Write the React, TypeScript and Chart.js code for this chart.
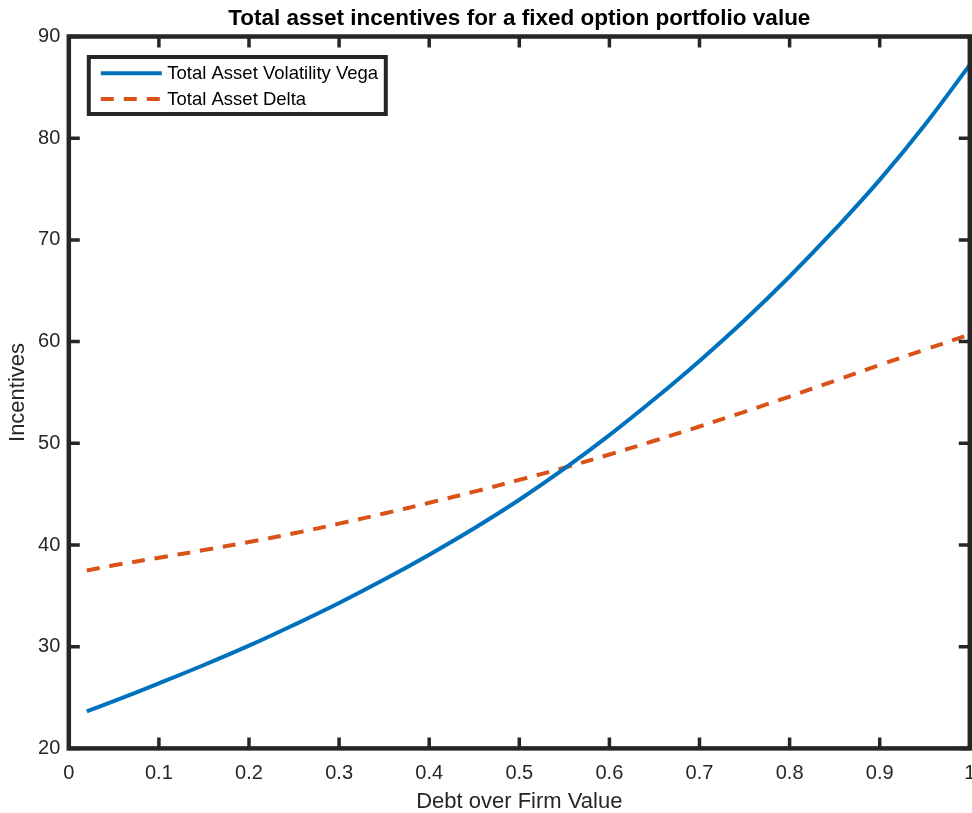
import React, { useEffect, useRef } from "react";
import { Chart, registerables } from "chart.js";

Chart.register(...registerables);

const debtRatio = [0.02, 0.05, 0.1, 0.15, 0.2, 0.25, 0.3, 0.35, 0.4, 0.45, 0.5, 0.55, 0.6, 0.65, 0.7, 0.75, 0.8, 0.85, 0.9, 0.95, 1.0];
const vegaValues = [23.65, 24.65, 26.4, 28.2, 30.1, 32.15, 34.3, 36.6, 39.05, 41.65, 44.45, 47.5, 50.8, 54.35, 58.1, 62.1, 66.4, 71.0, 75.9, 81.3, 87.2];
const deltaValues = [37.5, 38.0, 38.75, 39.5, 40.3, 41.15, 42.1, 43.1, 44.15, 45.25, 46.4, 47.6, 48.9, 50.25, 51.65, 53.1, 54.6, 56.15, 57.7, 59.2, 60.7];
const seriesLabels = ["Total Asset Volatility Vega", "Total Asset Delta"];
const chartTitle = "Total asset incentives for a fixed option portfolio value";
const xAxisTitle = "Debt over Firm Value";
const yAxisTitle = "Incentives";

const FONT = "'Liberation Sans', Arial, Helvetica, sans-serif";
const AXIS_COLOR = "#262626";

const framePlugin = {
  id: "matlabFrame",
  afterDatasetsDraw(chart: any) {
    const { ctx, chartArea } = chart;
    const xs = chart.scales.x;
    const ys = chart.scales.y;
    const tickLen = 11;
    ctx.save();
    ctx.strokeStyle = AXIS_COLOR;
    ctx.lineWidth = 3.5;
    ctx.beginPath();
    xs.ticks.forEach((t: any) => {
      const px = xs.getPixelForValue(t.value);
      ctx.moveTo(px, chartArea.bottom);
      ctx.lineTo(px, chartArea.bottom - tickLen);
      ctx.moveTo(px, chartArea.top);
      ctx.lineTo(px, chartArea.top + tickLen);
    });
    ys.ticks.forEach((t: any) => {
      const py = ys.getPixelForValue(t.value);
      ctx.moveTo(chartArea.left, py);
      ctx.lineTo(chartArea.left + tickLen, py);
      ctx.moveTo(chartArea.right, py);
      ctx.lineTo(chartArea.right - tickLen, py);
    });
    ctx.stroke();
    ctx.lineWidth = 4.5;
    ctx.strokeRect(chartArea.left, chartArea.top, chartArea.right - chartArea.left, chartArea.bottom - chartArea.top);
    ctx.restore();
  },
};

const legendPlugin = {
  id: "boxLegend",
  afterDraw(chart: any) {
    const { ctx, chartArea } = chart;
    const x0 = chartArea.left + 20;
    const y0 = chartArea.top + 20.5;
    const w = 297;
    const h = 57;
    ctx.save();
    ctx.fillStyle = "#ffffff";
    ctx.fillRect(x0, y0, w, h);
    ctx.strokeStyle = AXIS_COLOR;
    ctx.lineWidth = 4;
    ctx.strokeRect(x0, y0, w, h);
    const rows = [y0 + 16.3, y0 + 42];
    chart.data.datasets.forEach((ds: any, i: number) => {
      const y = rows[i];
      ctx.beginPath();
      ctx.strokeStyle = ds.borderColor;
      ctx.lineWidth = 4;
      ctx.setLineDash(ds.borderDash || []);
      ctx.moveTo(x0 + 12, y);
      ctx.lineTo(x0 + 73, y);
      ctx.stroke();
      ctx.setLineDash([]);
      ctx.fillStyle = "#000000";
      ctx.font = `18.5px ${FONT}`;
      ctx.textAlign = "left";
      ctx.textBaseline = "middle";
      ctx.fillText(ds.label, x0 + 78.5, y + 0.5);
    });
    ctx.restore();
  },
};

function fmtTick(v: number) {
  return String(Math.round(v * 10) / 10);
}

export default function App() {
  const canvasRef = useRef<HTMLCanvasElement | null>(null);

  useEffect(() => {
    if (!canvasRef.current) return;
    const chart = new Chart(canvasRef.current, {
      type: "line",
      data: {
        datasets: [
          {
            label: seriesLabels[0],
            data: debtRatio.map((x, i) => ({ x, y: vegaValues[i] })),
            borderColor: "#0072BD",
            backgroundColor: "#0072BD",
            borderWidth: 4,
            pointRadius: 0,
            tension: 0.4,
            fill: false,
          },
          {
            label: seriesLabels[1],
            data: debtRatio.map((x, i) => ({ x, y: deltaValues[i] })),
            borderColor: "#D95319",
            backgroundColor: "#D95319",
            borderWidth: 4,
            borderDash: [13, 10],
            pointRadius: 0,
            tension: 0.4,
            fill: false,
          },
        ],
      },
      options: {
        animation: false,
        responsive: false,
        maintainAspectRatio: false,
        layout: { padding: { left: 0, right: 2.2, top: 0, bottom: 0 } },
        plugins: {
          legend: { display: false },
          tooltip: { enabled: false },
          title: {
            display: true,
            text: chartTitle,
            fullSize: false,
            color: "#000000",
            font: { family: FONT, size: 22.5, weight: "bold", lineHeight: 1 },
            padding: { top: 7.5, bottom: 6.5 },
          },
        },
        scales: {
          x: {
            type: "linear",
            min: 0,
            max: 1,
            grid: { display: false, drawTicks: false },
            border: { display: false },
            ticks: {
              stepSize: 0.1,
              autoSkip: false,
              maxRotation: 0,
              padding: 13,
              color: AXIS_COLOR,
              font: { family: FONT, size: 20 },
              callback: (v: any) => fmtTick(Number(v)),
            },
            title: {
              display: true,
              text: xAxisTitle,
              color: AXIS_COLOR,
              font: { family: FONT, size: 22, lineHeight: 1 },
              padding: { top: 0, bottom: 0 },
            },
            afterFit(scale: any) {
              scale.height = 64.6;
              scale.paddingLeft = 0;
              scale.paddingRight = 0;
            },
          },
          y: {
            type: "linear",
            min: 20,
            max: 90,
            grid: { display: false, drawTicks: false },
            border: { display: false },
            ticks: {
              stepSize: 10,
              padding: 8.5,
              color: AXIS_COLOR,
              font: { family: FONT, size: 20 },
            },
            title: {
              display: true,
              text: yAxisTitle,
              color: AXIS_COLOR,
              font: { family: FONT, size: 22, lineHeight: 1 },
              padding: { top: 7, bottom: 0 },
            },
            afterFit(scale: any) {
              scale.width = 68.8;
              scale.paddingTop = 0;
              scale.paddingBottom = 0;
            },
          },
        },
      },
      plugins: [framePlugin, legendPlugin],
    });
    return () => chart.destroy();
  }, []);

  return (
    <div style={{ position: "fixed", left: 0, top: 0, width: 972, height: 813, background: "#ffffff" }}>
      <canvas ref={canvasRef} width={972} height={813} style={{ display: "block", width: 972, height: 813 }} />
    </div>
  );
}
